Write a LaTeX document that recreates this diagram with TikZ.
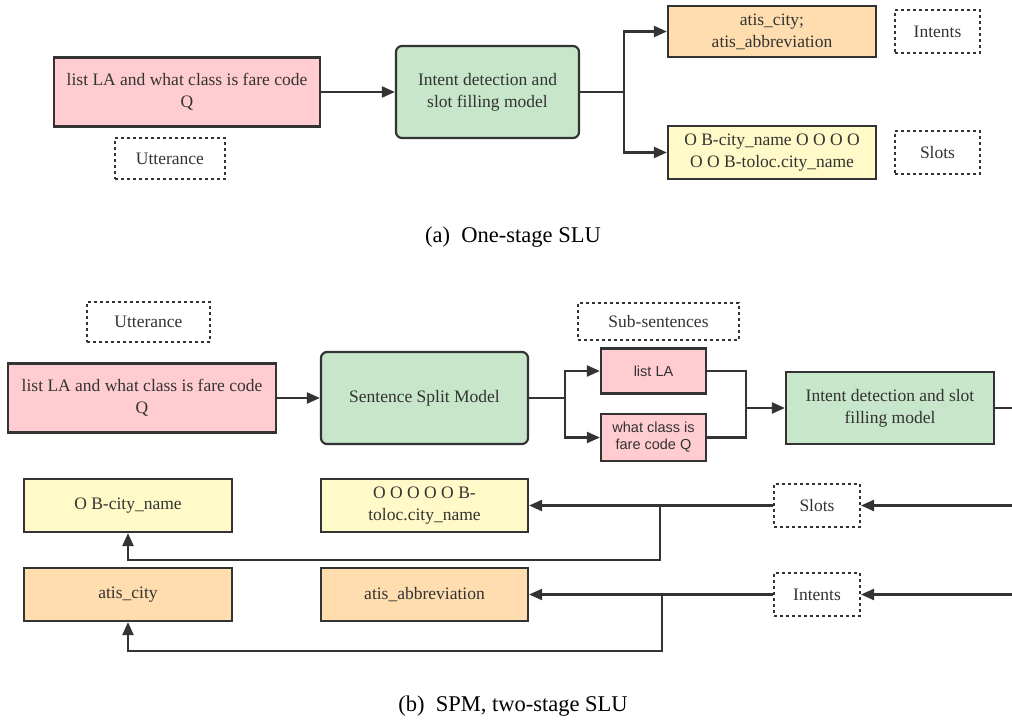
\documentclass[tikz,border=0pt]{standalone}
\usepackage{fontspec}
\setmainfont{Liberation Serif}
\setsansfont{Liberation Sans}
\usetikzlibrary{arrows.meta, positioning, calc}
\definecolor{sluline}{HTML}{333333}
\definecolor{slupink}{HTML}{FFCCD1}
\definecolor{slugreen}{HTML}{C7E6CA}
\definecolor{sluorange}{HTML}{FFDDAE}
\definecolor{sluyellow}{HTML}{FFFAC8}

\begin{document}
\begin{tikzpicture}[x=1pt, y=-1pt,
    every node/.style={font=\fontsize{17.5}{22}\selectfont, text=sluline, align=center, inner sep=0pt},
    box/.style={draw=sluline, line width=2.2pt},
    pinkbox/.style={box, fill=slupink},
    greenbox/.style={box, fill=slugreen},
    orangebox/.style={box, fill=sluorange},
    yellowbox/.style={box, fill=sluyellow},
    tagbox/.style={draw=sluline, line width=2pt, dash pattern=on 3pt off 3pt},
    subbox/.style={pinkbox, font=\sffamily\fontsize{14.5}{17}\selectfont},
    caption/.style={font=\fontsize{22.5}{25}\selectfont, text=black},
    wire/.style={draw=sluline, line width=2.2pt},
    conn/.style={wire, -{Triangle[length=13pt, width=11pt]}}]
    \useasboundingbox (0,0) rectangle (1012,720);

    % (a) one-stage
    \node[pinkbox, minimum width=266pt, minimum height=69pt] (utt1) at (187,92) {list LA and what class is fare code\\Q};
    \node[tagbox, minimum width=110pt, minimum height=41pt] (tagutt1) at (170,158.5) {Utterance};
    \node[greenbox, rounded corners=6pt, minimum width=183pt, minimum height=92pt] (model1) at (487.5,92) {Intent detection and\\slot filling model};
    \node[orangebox, minimum width=208pt, minimum height=51pt] (int1) at (772,31.5) {atis\_city;\\atis\_abbreviation};
    \node[tagbox, minimum width=85pt, minimum height=43pt] (tagint1) at (937.5,31.5) {Intents};
    \node[yellowbox, minimum width=208pt, minimum height=53pt] (slot1) at (772,152.5) {O B-city\_name O O O O\\O O B-toloc.city\_name};
    \node[tagbox, minimum width=85pt, minimum height=43pt] (tagslot1) at (937.5,152.5) {Slots};
    \node[caption] (capa) at (513,237) {(a)\enspace One-stage SLU};

    \draw[conn] (utt1.east) -- (model1.west);
    \coordinate (br1) at (624,92);
    \draw[wire] (model1.east) -- (br1);
    \draw[conn] (br1) |- (int1.west);
    \draw[conn] (br1) |- (slot1.west);

    % (b) two-stage with SPM
    \node[tagbox, minimum width=123pt, minimum height=40pt] (tagutt2) at (148.5,322) {Utterance};
    \node[pinkbox, minimum width=268pt, minimum height=69pt] (utt2) at (142,398) {list LA and what class is fare code\\Q};
    \node[greenbox, rounded corners=6pt, minimum width=207pt, minimum height=92pt] (split) at (424.5,398) {Sentence Split Model};
    \node[tagbox, minimum width=161pt, minimum height=37pt] (tagsub) at (658.5,321.5) {Sub-sentences};
    \node[subbox, minimum width=105pt, minimum height=45pt] (sub1) at (653.5,371) {list LA};
    \node[subbox, minimum width=105pt, minimum height=47pt] (sub2) at (653.5,437.5) {what class is\\fare code Q};
    \node[greenbox, minimum width=208pt, minimum height=72pt] (idsf) at (890,408) {Intent detection and slot\\filling model};

    \node[yellowbox, minimum width=208pt, minimum height=53pt] (slota) at (128,505.5) {O B-city\_name};
    \node[yellowbox, minimum width=207pt, minimum height=53pt] (slotb) at (424.5,505.5) {O O O O O B-\\toloc.city\_name};
    \node[orangebox, minimum width=208pt, minimum height=53pt] (inta) at (128,594.5) {atis\_city};
    \node[orangebox, minimum width=207pt, minimum height=53pt] (intb) at (424.5,594.5) {atis\_abbreviation};
    \node[tagbox, minimum width=86pt, minimum height=43pt] (tagslot2) at (817,505.5) {Slots};
    \node[tagbox, minimum width=86pt, minimum height=43pt] (tagint2) at (817,594.5) {Intents};
    \node[caption] (capb) at (513,706) {(b)\enspace SPM, two-stage SLU};

    \draw[conn] (utt2.east) -- (split.west);
    \coordinate (br2) at (565,398);
    \draw[wire] (split.east) -- (br2);
    \draw[conn] (br2) |- (sub1.west);
    \draw[conn] (br2) |- (sub2.west);
    \coordinate (mg) at (746,408);
    \draw[wire] (sub1.east) -| (mg);
    \draw[wire] (sub2.east) -| (mg);
    \draw[conn] (mg) -- (idsf.west);
    \coordinate (outR) at (1014,408);
    \draw[wire] (idsf.east) -- (outR);

    % outputs coming back from the right
    \coordinate (inS) at (1014,505.5);
    \coordinate (inI) at (1014,594.5);
    \draw[conn] (inS) -- (tagslot2.east);
    \draw[conn] (inI) -- (tagint2.east);
    \draw[conn] (tagslot2.west) -- (slotb.east);
    \draw[conn] (tagint2.west) -- (intb.east);
    \coordinate (sb) at (660,505.5);
    \coordinate (ib) at (662,594.5);
    \draw[conn] (sb) -- ++(0,54.5) -| (slota.south);
    \draw[conn] (ib) -- ++(0,56.5) -| (inta.south);
\end{tikzpicture}
\end{document}
